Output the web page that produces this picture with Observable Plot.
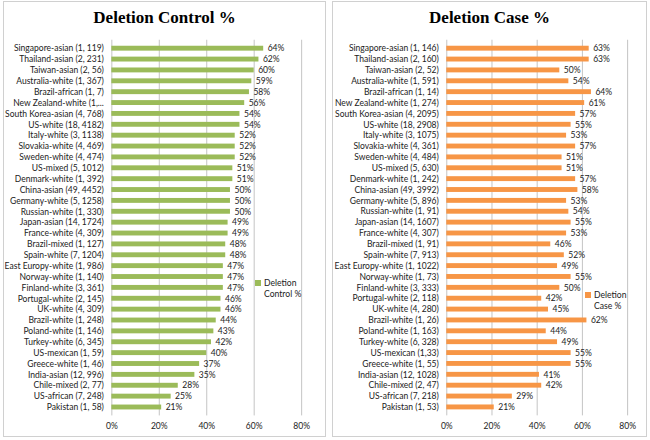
<!DOCTYPE html>
<html><head><meta charset="utf-8">
<script src="https://cdn.jsdelivr.net/npm/d3@7"></script>
<script src="https://cdn.jsdelivr.net/npm/@observablehq/plot@0.6"></script>
<style>
html,body{margin:0;padding:0;background:#fff;}
#wrap{position:relative;width:650px;height:440px;background:#fff;overflow:hidden;}
.panel{position:absolute;border:1px solid #d0d0d0;box-sizing:border-box;background:#fff;}
.panel svg{position:absolute;left:0;top:0;}
.title{position:absolute;left:0;width:100%;text-align:center;font-family:"Liberation Serif",serif;font-weight:bold;font-size:17px;color:#000;}
.legend{position:absolute;font-family:Lato,sans-serif;font-size:8.6px;color:#222;line-height:11px;}
.legend .sw{display:inline-block;width:6px;height:6px;margin-right:3px;vertical-align:0px;}
</style>
</head><body>
<div id="wrap"></div>
<script>
const controlCategories = ["Singapore-asian (1, 119)","Thailand-asian (2, 231)","Taiwan-asian (2, 56)","Australia-white (1, 367)","Brazil-african (1, 7)","New Zealand-white (1,...","South Korea-asian (4, 768)","US-white (18, 4182)","Italy-white (3, 1138)","Slovakia-white (4, 469)","Sweden-white (4, 474)","US-mixed (5, 1012)","Denmark-white (1, 392)","China-asian (49, 4452)","Germany-white (5, 1258)","Russian-white (1, 330)","Japan-asian (14, 1724)","France-white (4, 309)","Brazil-mixed (1, 127)","Spain-white (7, 1204)","East Europy-white (1, 986)","Norway-white (1, 140)","Finland-white (3, 361)","Portugal-white (2, 145)","UK-white (4, 309)","Brazil-white (1, 248)","Poland-white (1, 146)","Turkey-white (6, 345)","US-mexican (1, 59)","Greece-white (1, 46)","India-asian (12, 996)","Chile-mixed (2, 77)","US-african (7, 248)","Pakistan (1, 58)"];
const controlValues = [64,62,60,59,58,56,54,54,52,52,52,51,51,50,50,50,49,49,48,48,47,47,47,46,46,44,43,42,40,37,35,28,25,21];
const caseCategories = ["Singapore-asian (1, 146)","Thailand-asian (2, 160)","Taiwan-asian (2, 52)","Australia-white (1, 591)","Brazil-african (1, 14)","New Zealand-white (1, 274)","South Korea-asian (4, 2095)","US-white (18, 2908)","Italy-white (3, 1075)","Slovakia-white (4, 361)","Sweden-white (4, 484)","US-mixed (5, 630)","Denmark-white (1, 242)","China-asian (49, 3992)","Germany-white (5, 896)","Russian-white (1, 91)","Japan-asian (14, 1607)","France-white (4, 307)","Brazil-mixed (1, 91)","Spain-white (7, 913)","East Europy-white (1, 1022)","Norway-white (1, 73)","Finland-white (3, 333)","Portugal-white (2, 118)","UK-white (4, 280)","Brazil-white (1, 26)","Poland-white (1, 163)","Turkey-white (6, 328)","US-mexican (1,33)","Greece-white (1, 55)","India-asian (12, 1028)","Chile-mixed (2, 47)","US-african (7, 218)","Pakistan (1, 53)"];
const caseValues = [63,63,50,54,64,61,57,55,53,57,51,51,57,58,53,54,55,53,46,52,49,55,50,42,45,62,44,49,55,55,41,42,29,21];
const xTicks = [0,20,40,60,80];
const xTickLabels = ["0%","20%","40%","60%","80%"];

const wrap = document.getElementById("wrap");

function panel(opts){
  const p = document.createElement("div");
  p.className = "panel";
  Object.assign(p.style,{left:opts.left+"px",top:opts.top+"px",width:opts.width+"px",height:opts.height+"px"});
  const data = opts.categories.map((c,i)=>({c, v: opts.values[i]}));
  const chart = Plot.plot({
    width: opts.width, height: opts.height,
    marginLeft: opts.ml, marginRight: opts.mr, marginTop: opts.mt, marginBottom: opts.mb,
    style:{fontFamily:"Lato, sans-serif", fontSize:"8.6px", color:"#222", background:"transparent"},
    x:{domain:[0,80]},
    y:{domain: opts.categories, padding:0.55},
    marks:[
      Plot.gridX(xTicks,{stroke:"#c4c4c4", strokeOpacity:1}),
      Plot.barX(data,{x:"v", y:"c", fill: opts.color}),
      Plot.text(data,{x:"v", y:"c", text:d=>d.v+"%", dx:4, textAnchor:"start", fill:"#222"}),
      Plot.axisY({tickSize:0, tickPadding:8, label:null}),
      Plot.axisX({ticks:xTicks, tickFormat:(d,i)=>xTickLabels[xTicks.indexOf(d)], tickSize:0, tickPadding:7, label:null})
    ]
  });
  p.appendChild(chart);
  const t = document.createElement("div");
  t.className="title"; t.textContent = opts.title; t.style.top = opts.titleTop+"px";
  p.appendChild(t);
  const lg = document.createElement("div");
  lg.className="legend";
  Object.assign(lg.style,{left:opts.lgLeft+"px", top:opts.lgTop+"px"});
  lg.innerHTML = `<span class="sw" style="background:${opts.color}"></span>${opts.lg1}<br><span style="padding-left:9px">${opts.lg2}</span>`;
  p.appendChild(lg);
  wrap.appendChild(p);
}

panel({left:3, top:1, width:323, height:436, ml:108, mr:24, mt:38, mb:20,
  categories:controlCategories, values:controlValues, color:"#9bbb59",
  title:"Deletion Control %", titleTop:6, lgLeft:251, lgTop:276, lg1:"Deletion", lg2:"Control %"});
panel({left:332, top:1, width:315, height:436, ml:114, mr:19, mt:38, mb:20,
  categories:caseCategories, values:caseValues, color:"#f79646",
  title:"Deletion Case %", titleTop:6, lgLeft:252, lgTop:288, lg1:"Deletion", lg2:"Case %"});
</script>
</body></html>
